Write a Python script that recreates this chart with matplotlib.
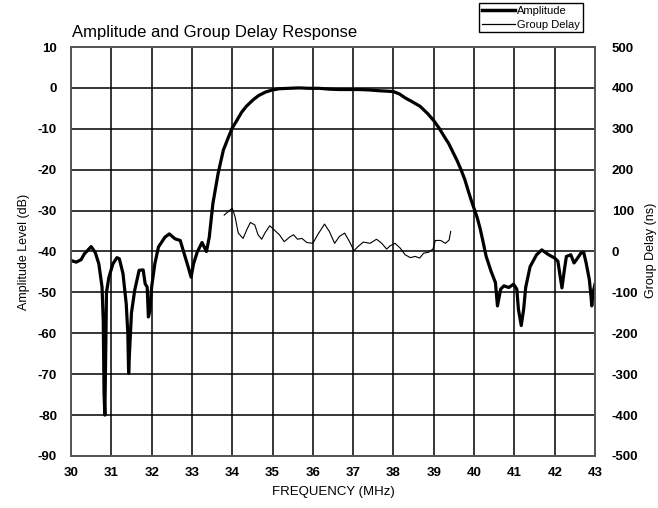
import numpy as np
import matplotlib
matplotlib.use("Agg")
import matplotlib.pyplot as plt
from matplotlib.lines import Line2D

plt.rcParams['font.family'] = ['Liberation Sans', 'DejaVu Sans']
plt.rcParams['axes.unicode_minus'] = False

# amplitude response (MHz, dB)
amp_freq = [30.0, 30.13, 30.25, 30.33, 30.5, 30.6, 30.69, 30.77, 30.8, 30.82, 30.84,
            30.87, 30.88, 30.94, 31.04, 31.14, 31.2, 31.29, 31.37, 31.41, 31.43, 31.45,
            31.5, 31.58, 31.69, 31.79, 31.84, 31.89, 31.92, 31.96, 32.0, 32.08, 32.17,
            32.33, 32.44, 32.58, 32.71, 32.81, 32.92, 32.98, 33.04, 33.13, 33.25, 33.36,
            33.43, 33.52, 33.65, 33.78, 33.9, 34.0, 34.1, 34.23, 34.35, 34.52, 34.65,
            34.83, 35.0, 35.17, 35.4, 35.66, 35.9, 36.16, 36.4, 36.66, 36.9, 37.15, 37.4,
            37.65, 37.85, 38.0, 38.15, 38.3, 38.45, 38.66, 38.85, 39.0, 39.13, 39.26,
            39.37, 39.47, 39.58, 39.68, 39.77, 39.85, 39.93, 40.0, 40.08, 40.15, 40.22,
            40.3, 40.42, 40.53, 40.58, 40.66, 40.74, 40.86, 40.98, 41.06,
            41.1, 41.17, 41.23, 41.28, 41.39, 41.55, 41.68, 41.85, 42.0, 42.08, 42.13,
            42.18, 42.24, 42.29, 42.4, 42.48, 42.54, 42.65, 42.72, 42.78, 42.86, 42.9,
            42.92, 42.95, 43.0]
amp_db = [-42.2, -42.6, -42.0, -40.6, -38.8, -40.2, -43.0, -48.7, -56.8, -74.7, -80.0,
          -58.4, -50.0, -46.3, -43.0, -41.5, -41.8, -45.4, -52.8, -60.0, -69.8, -65.0,
          -55.0, -49.5, -44.6, -44.5, -47.9, -48.7, -56.0, -54.4, -48.7, -43.0, -38.9,
          -36.5, -35.7, -36.9, -37.3, -40.6, -44.2, -46.3, -43.0, -40.2, -37.8, -40.0,
          -36.5, -28.3, -20.9, -15.2, -12.2, -9.8, -8.2, -6.0, -4.5, -2.9, -1.9,
          -1.0, -0.5, -0.2, -0.1, 0.0, -0.1, -0.1, -0.3, -0.4, -0.4, -0.4, -0.5,
          -0.7, -0.8, -0.9, -1.5, -2.5, -3.3, -4.5, -6.3, -8.0, -9.8, -11.9,
          -13.6, -15.6, -17.8, -20.1, -22.4, -25.0, -27.5, -29.5, -31.8, -34.4, -37.5,
          -41.2, -44.8, -47.6, -53.3, -49.2, -48.4, -48.8, -48.0, -49.2,
          -54.1, -58.1, -54.1, -48.8, -43.7, -40.8, -39.6, -40.8, -41.6, -42.4, -45.7,
          -48.9, -44.5, -41.2, -40.8, -42.8, -42.0, -40.4, -40.2, -42.8, -46.9, -50.9,
          -53.3, -50.1, -48.0]

# group delay (MHz, ns)
gd_freq = [33.8, 34.0, 34.07, 34.15, 34.27, 34.36, 34.45, 34.56, 34.64, 34.73, 34.81,
           34.93, 35.04, 35.17, 35.29, 35.42, 35.52, 35.62, 35.73, 35.85, 36.0, 36.12,
           36.29, 36.41, 36.54, 36.66, 36.79, 36.91, 37.02, 37.12, 37.25, 37.42, 37.58,
           37.71, 37.83, 37.92, 38.04, 38.17, 38.29, 38.42, 38.54, 38.65, 38.75, 38.87,
           38.98, 39.04, 39.17, 39.29, 39.38, 39.42]
gd_ns = [89, 106, 85, 45, 32, 53, 71, 65, 41, 30, 45,
         63, 53, 41, 24, 35, 41, 30, 32, 22, 20, 41,
         67, 49, 20, 37, 45, 24, 2, 12, 23, 20, 30,
         20, 6, 14, 20, 8, -8, -15, -12, -16, -4, -2,
         6, 27, 27, 20, 28, 49]

x_ticks = list(range(30, 44))
amp_ticks = list(range(-90, 11, 10))
gd_ticks = list(range(-500, 501, 100))

fig = plt.figure(figsize=(6.58, 5.08), dpi=100)
ax = fig.add_axes([71 / 658, 1 - 456 / 508, 524 / 658, 409 / 508])
ax2 = ax.twinx()

ax.plot(amp_freq, amp_db, color='black', lw=2.3, zorder=3)
ax2.plot(gd_freq, gd_ns, color='black', lw=0.8)

ax.set_xlim(30, 43)
ax.set_ylim(-90, 10)
ax2.set_ylim(-500, 500)
ax.set_xticks(x_ticks)
ax.set_yticks(amp_ticks)
ax2.set_yticks(gd_ticks)
ax.grid(True, color='black', lw=1.1)
ax.set_axisbelow(True)

for a in (ax, ax2):
    a.tick_params(length=0, labelsize=9.5)
    for lab in a.get_xticklabels() + a.get_yticklabels():
        lab.set_fontweight('bold')
    for s in a.spines.values():
        s.set_color('#555555')
        s.set_linewidth(1.2)
ax.tick_params(axis='y', pad=10)
ax.tick_params(axis='x', pad=8)
ax2.tick_params(axis='y', pad=12)

ax.set_xlabel('FREQUENCY (MHz)', fontsize=9.5, labelpad=5)
ax.set_ylabel('Amplitude Level (dB)', fontsize=9, labelpad=6)
fig.text(651 / 658, 1 - 250 / 508, 'Group Delay (ns)', fontsize=9,
         rotation=90, ha='center', va='center')

fig.text(72 / 658, 1 - 33 / 508, 'Amplitude and Group Delay Response',
         fontsize=12, va='center', ha='left')

handles = [Line2D([], [], color='black', lw=2.5), Line2D([], [], color='black', lw=0.9)]
leg = fig.legend(handles, ['Amplitude', 'Group Delay'], loc='upper right',
                 bbox_to_anchor=(583 / 658, 1 - 3 / 508), fontsize=8,
                 frameon=True, fancybox=False, edgecolor='black', framealpha=1,
                 handlelength=3.0, handletextpad=0.2, borderpad=0.25,
                 labelspacing=0.35, borderaxespad=0)
leg.get_frame().set_linewidth(1.0)

fig.savefig('out.png', dpi=100)
